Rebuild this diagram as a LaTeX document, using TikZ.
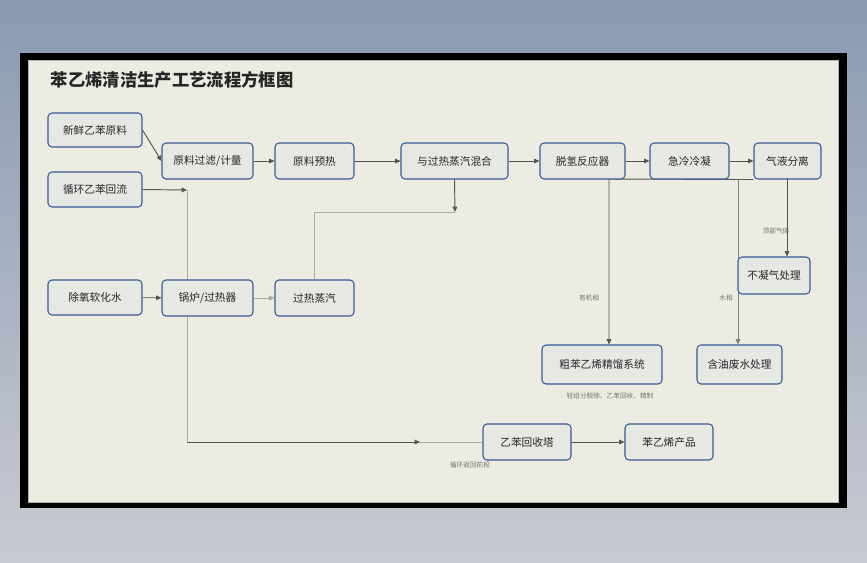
\documentclass[tikz,border=0pt]{standalone}
\usepackage{fontspec}
\setmainfont{Noto Sans CJK SC}
\usetikzlibrary{arrows.meta}
\pgfdeclarelayer{bg}\pgfdeclarelayer{lines}
\pgfsetlayers{bg,lines,main}
\definecolor{bgpanel}{HTML}{ECECE2}
\definecolor{boxfill}{HTML}{E6E8E4}
\definecolor{boxdraw}{HTML}{3A5A95}
\definecolor{ln}{HTML}{555555}
\definecolor{lg}{HTML}{AAAAA0}
\definecolor{topc}{HTML}{8A9AB2}
\definecolor{botc}{HTML}{C8CAD2}
\begin{document}
\begin{tikzpicture}[x=0.75pt,y=-0.75pt,
  box/.style={draw=boxdraw,fill=boxfill,rounded corners=3pt,line width=0.8pt,font=\fontsize{8}{9}\selectfont,text=black!85},
  arr/.style={draw=ln,line width=0.7pt,-{Triangle[length=4pt,width=3.5pt]}},
  arg/.style={draw=lg,line width=0.7pt},
  lab/.style={font=\fontsize{5}{6}\selectfont,text=black!55}]
\begin{pgfonlayer}{bg}
\fill[top color=topc,bottom color=botc] (0,0) rectangle (867,562);
\fill[black] (20,53) rectangle (847,508);
\fill[bgpanel,draw=gray!60] (28,60) rectangle (838,502);
\end{pgfonlayer}
\node[anchor=west,font=\bfseries\fontsize{13}{15}\selectfont,text=black!85] (title) at (46,80) {苯乙烯清洁生产工艺流程方框图};
\newcommand{\bx}[6]{\node[box,minimum width={(#4-#2)*0.75pt},minimum height={(#5-#3)*0.75pt}] (#1) at ({(#2+#4)/2},{(#3+#5)/2}) {#6};}
\bx{a}{48}{113}{142}{147}{新鲜乙苯原料}
\bx{b}{48}{172}{142}{207}{循环乙苯回流}
\bx{c}{162}{143}{253}{179}{原料过滤/计量}
\bx{d}{275}{143}{354}{179}{原料预热}
\bx{e}{401}{143}{508}{179}{与过热蒸汽混合}
\bx{f}{540}{143}{625}{179}{脱氢反应器}
\bx{g}{650}{143}{729}{179}{急冷冷凝}
\bx{h}{754}{143}{821}{179}{气液分离}
\bx{i}{48}{280}{142}{315}{除氧软化水}
\bx{j}{162}{280}{253}{316}{锅炉/过热器}
\bx{k}{275}{280}{354}{316}{过热蒸汽}
\bx{l}{738}{257}{810}{294}{不凝气处理}
\bx{m}{542}{345}{662}{384}{粗苯乙烯精馏系统}
\bx{n}{697}{345}{782}{384}{含油废水处理}
\bx{o}{483}{424}{571}{460}{乙苯回收塔}
\bx{p}{625}{424}{713}{460}{苯乙烯产品}
\coordinate (rc) at (187,190);
\coordinate (mx) at (455,212);
\begin{pgfonlayer}{lines}
\draw[arr] (a.east) -- (c.west);
\draw[arr] (b.east) -- (rc);
\draw[arg] (rc) -- (187,442) -- (o.west);
\draw[arr] (187,442) -- (420,442);
\draw[arr] (c) -- (d); \draw[arr] (d) -- (e); \draw[arr] (e) -- (f);
\draw[arr] (f) -- (g); \draw[arr] (g) -- (h);
\draw[arr] (i) -- (j); \draw[arr,draw=lg] (j) -- (k);
\draw[arr] (e.south) -- (mx);
\draw[arg] (k.north) |- (mx);
\draw[arr] (787,179) -- (l.north -| 787,0);
\draw[arr] (h.south west) -- (609,179) -- (m.north -| 609,0);
\draw[arr,draw=gray] (738,179) -- (n.north -| 738,0);
\draw[arr] (560,442) -- (p.west);
\end{pgfonlayer}
\node[lab] (t1) at (776,231) {顶部气体};
\node[lab] (t2) at (589,298) {有机相};
\node[lab] (t3) at (726,298) {水相};
\node[lab] (t4) at (610,396) {轻组分脱除、乙苯回收、精制};
\node[lab] (t5) at (470,465) {循环返回前段};
\end{tikzpicture}
\end{document}
